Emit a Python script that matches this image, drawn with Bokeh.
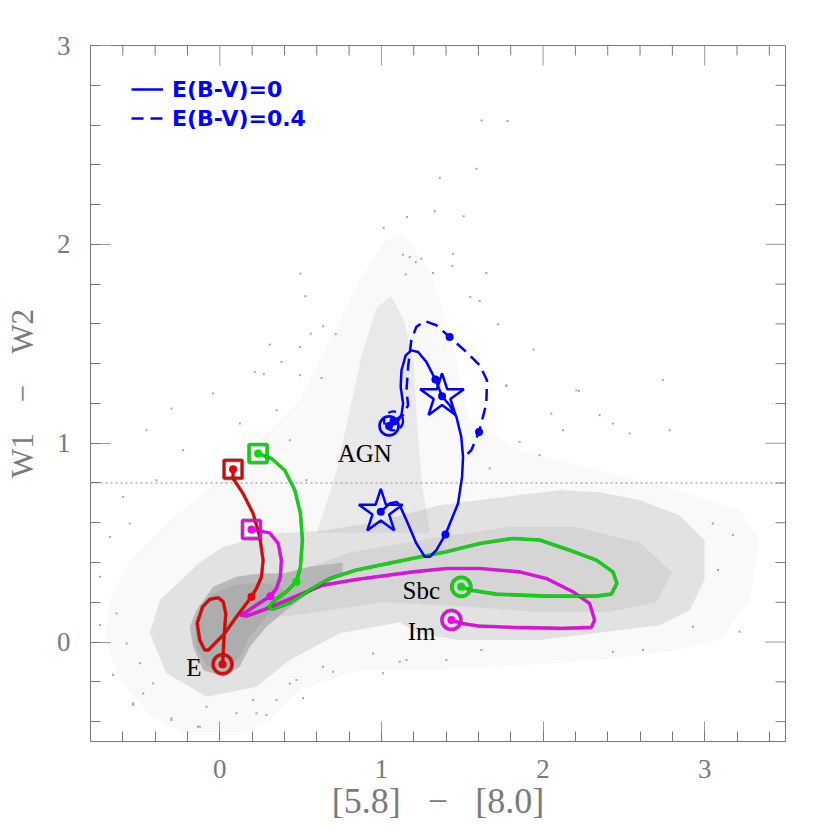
import numpy as np
from bokeh.plotting import figure
from bokeh.models import SingleIntervalTicker, Span, Legend, LegendItem
from bokeh.core.properties import value
from bokeh.embed import file_html
from bokeh.resources import INLINE

# ---------------- data ----------------
# density contours of the grey source cloud (x = [5.8]-[8.0], y = W1-W2)
halo_x = [-0.680, -0.557, -0.309, 0.000, 0.247, 0.495, 0.680, 0.866, 1.020, 1.144, 1.299, 1.422,
          1.546, 1.855, 2.350, 2.845, 3.216, 3.340, 3.278, 3.092, 2.845, 2.350, 1.855, 1.361,
          0.866, 0.495, 0.309, 0.124, -0.186, -0.433, -0.618, -0.711]
halo_y = [0.211, 0.412, 0.613, 0.814, 1.015, 1.216, 1.518, 1.819, 2.020, 2.045, 1.869, 1.568,
          1.116, 0.965, 0.864, 0.764, 0.663, 0.513, 0.211, 0.010, -0.040, -0.090, -0.116, -0.141,
          -0.141, -0.241, -0.392, -0.467, -0.467, -0.367, -0.191, 0.010]
mid_x = [-0.433, -0.371, -0.124, 0.021, 0.330, 0.639, 0.948, 1.361, 1.608, 1.855, 2.103,
         2.350, 2.597, 2.845, 2.999, 2.999, 2.907, 2.721, 2.474, 2.226, 1.979, 1.732, 1.484,
         1.237, 1.113, 0.742, 0.433, 0.227, -0.082, -0.330]
mid_y = [0.044, 0.211, 0.400, 0.479, 0.546, 0.560, 0.600, 0.688, 0.714, 0.739, 0.764,
         0.754, 0.714, 0.638, 0.513, 0.312, 0.161, 0.085, 0.060, 0.035, 0.010, 0.010, 0.010,
         0.040, 0.100, 0.044, -0.090, -0.225, -0.275, -0.157]
plume_x = [0.60, 0.72, 0.80, 0.88, 0.97, 1.06, 1.14, 1.20, 1.22, 1.25, 1.30]
plume_y = [0.55, 0.85, 1.15, 1.45, 1.68, 1.74, 1.62, 1.40, 1.10, 0.80, 0.55]
band_x = [0.30, 0.80, 1.30, 1.80, 2.20, 2.60, 2.80, 2.70, 2.40, 2.00, 1.50, 1.00, 0.60, 0.30]
band_y = [0.30, 0.45, 0.52, 0.58, 0.58, 0.50, 0.35, 0.20, 0.15, 0.15, 0.18, 0.20, 0.15, 0.12]
core_x = [-0.144, -0.041, 0.103, 0.247, 0.392, 0.560, 0.760, 0.760, 0.560, 0.412, 0.289, 0.186,
          0.124, 0.021, -0.103, -0.165, -0.186]
core_y = [0.161, 0.278, 0.328, 0.345, 0.345, 0.380, 0.400, 0.340, 0.250, 0.161, 0.077, -0.024,
          -0.124, -0.174, -0.141, -0.024, 0.077]
inner_x = [-0.15, -0.05, 0.10, 0.25, 0.38, 0.40, 0.28, 0.18, 0.12, 0.04, -0.08, -0.15]
inner_y = [0.12, 0.24, 0.29, 0.30, 0.28, 0.22, 0.12, 0.02, -0.08, -0.14, -0.12, -0.02]

# sparse individual sources outside the dense cloud
src_x = [1.620, 1.588, 1.361, 1.330, 1.158, 1.509, 1.014, 1.134, 1.175, 1.247, 1.443, 0.499, 0.530,
         1.649, 1.439, 1.319, 1.150, 1.212, 0.309, 0.382, 0.495, 0.563, 0.639, 0.717, 1.942, 1.773,
         2.222, 1.721, 1.608, 1.550, 0.495, 0.629, 0.272, 0.216, 1.780,
         -0.299, -0.227, -0.557, -0.680, -0.742, -0.639, -0.536, -0.299, -0.124, 0.227, 0.351,
         0.474, 0.639, -0.392, -0.041, 0.124, 0.351, 0.536, 0.433, -0.453, -0.598, 1.010, 1.155,
         1.402, 1.618, 2.432, 2.618, 2.927, 3.216, 3.174, 3.082, 3.051, 2.536, 2.783, 2.123, 2.350,
         2.432, 1.855, 1.979, 1.773, 2.051, 2.206, 1.670, 2.741,
         -0.742, -0.660, -0.536, -0.474, -0.299, -0.134, 0.103, 0.289, 0.515, 0.701, 0.948, 1.113,
         -0.577, -0.495, -0.412, -0.082, 0.206, 0.433]
src_y = [2.623, 2.380, 2.335, 2.166, 2.137, 2.141, 2.084, 1.948, 1.936, 1.928, 1.953, 1.853, 1.739,
         1.856, 1.891, 1.856, 1.849, 1.911, 1.496, 1.409, 1.484, 1.551, 1.588, 1.548, 1.471, 1.288,
         1.263, 1.598, 1.715, 1.735, 1.342, 1.328, 1.347, 1.358, 2.620,
         1.174, 0.965, 0.596, 0.529, 0.328, 0.144, -0.308, -0.392, -0.426, -0.358, -0.291,
         -0.191, -0.124, 0.814, 1.250, 1.099, 1.166, 0.814, 1.015, 1.065, 0.730, -0.157, -0.090,
         -0.090, -0.040, -0.049, -0.040, 0.077, 0.052, 0.538, 0.362, 0.596, 1.049, 1.065, 1.065, 1.141,
         1.099, 1.007, 0.940, 1.291, 1.149, 1.266, 0.873, 1.317,
         0.085, -0.166, -0.317, -0.258, -0.383, -0.426, -0.358, -0.367, -0.283, -0.149, -0.057, -0.099,
         -0.007, -0.107, -0.208, -0.325, -0.291, -0.208]

# template tracks
e_x = [0.017, 0.021, 0.025, 0.037, 0.021, -0.010, -0.062, -0.107, -0.140, -0.124, -0.093, -0.070,
       0.031, 0.103, 0.196, 0.227, 0.258, 0.268, 0.247, 0.206, 0.144, 0.082, 0.082]
e_y = [-0.111, -0.057, 0.010, 0.144, 0.203, 0.223, 0.215, 0.177, 0.094, 0.010, -0.040, -0.040,
       0.044, 0.127, 0.228, 0.270, 0.328, 0.412, 0.529, 0.647, 0.747, 0.823, 0.869]
im_x = [1.433, 1.495, 1.608, 1.814, 2.123, 2.299, 2.319, 2.288, 2.185, 2.020, 1.855, 1.608, 1.402,
        1.196, 0.845, 0.639, 0.515, 0.392, 0.268, 0.165, 0.128, 0.165, 0.227, 0.313, 0.351, 0.375,
        0.381, 0.361, 0.309, 0.196]
im_y = [0.111, 0.094, 0.080, 0.074, 0.069, 0.074, 0.111, 0.194, 0.253, 0.320, 0.353, 0.370, 0.370,
        0.353, 0.315, 0.286, 0.245, 0.203, 0.161, 0.131, 0.136, 0.152, 0.186, 0.231, 0.270, 0.328,
        0.412, 0.496, 0.549, 0.566]
sbc_x = [1.494, 1.556, 1.711, 2.020, 2.330, 2.422, 2.457, 2.432, 2.330, 2.165, 1.979, 1.814, 1.608,
         1.402, 1.196, 0.845, 0.680, 0.557, 0.433, 0.330, 0.303, 0.340, 0.412, 0.474, 0.499, 0.511,
         0.499, 0.464, 0.402, 0.320, 0.237]
sbc_y = [0.278, 0.261, 0.241, 0.231, 0.231, 0.241, 0.295, 0.353, 0.412, 0.462, 0.513, 0.521, 0.496,
         0.454, 0.421, 0.362, 0.320, 0.261, 0.198, 0.166, 0.172, 0.211, 0.253, 0.303, 0.378, 0.513,
         0.647, 0.764, 0.864, 0.923, 0.948]
agn_x = [1.047, 1.093, 1.124, 1.134, 1.119, 1.124, 1.150, 1.185, 1.227, 1.278, 1.334, 1.375, 1.422,
         1.464, 1.494, 1.505, 1.499, 1.474, 1.396, 1.340, 1.299, 1.268, 1.216, 1.155, 1.113, 1.093,
         1.051, 0.996]
agn_y = [1.087, 1.099, 1.141, 1.199, 1.283, 1.367, 1.442, 1.467, 1.459, 1.409, 1.320, 1.236, 1.191,
         1.132, 1.032, 0.931, 0.831, 0.697, 0.541, 0.462, 0.429, 0.429, 0.496, 0.613, 0.688, 0.705,
         0.697, 0.655]
agn04_x = [1.075, 1.134, 1.165, 1.155, 1.165, 1.185, 1.216, 1.268, 1.340, 1.422, 1.525, 1.608,
           1.653, 1.649, 1.604, 1.556, 1.515]
agn04_y = [1.112, 1.141, 1.191, 1.266, 1.384, 1.518, 1.585, 1.615, 1.593, 1.534, 1.459, 1.392,
           1.317, 1.199, 1.057, 0.965, 0.931]

# redshift markers on the tracks
e_dots_x, e_dots_y = [0.082, 0.196, 0.017], [0.869, 0.228, -0.111]
im_dots_x, im_dots_y = [0.196, 0.313, 1.433], [0.566, 0.231, 0.111]
sbc_dots_x, sbc_dots_y = [0.237, 0.474, 1.494], [0.948, 0.303, 0.278]
agn_dots_x = [1.047, 1.334, 1.375, 1.396, 0.996, 1.075, 1.422, 1.604]
agn_dots_y = [1.087, 1.320, 1.236, 0.541, 0.655, 1.112, 1.534, 1.057]
sq_x, sq_y = [0.082, 0.196, 0.237], [0.869, 0.566, 0.948]
ci_x, ci_y = [0.017, 1.433, 1.494, 1.047], [-0.111, 0.111, 0.278, 1.087]
star_x, star_y = [0.996, 1.375], [0.655, 1.236]

lab_text = ["AGN", "Sbc", "Im", "E"]
lab_x = [0.897, 1.247, 1.249, -0.160]
lab_y = [0.946, 0.261, 0.052, -0.129]

# axis ticks
x_major = [0, 1, 2, 3]
y_major = [0, 1, 2, 3]
x_minor = [round(v, 1) for v in np.arange(-0.8, 3.45, 0.2) if abs(v - round(v)) > 1e-6]
y_minor = [round(v, 1) for v in np.arange(-0.4, 2.95, 0.2) if abs(v - round(v)) > 1e-6]

NB = "\u00a0"
x_title = "[5.8]" + NB * 3 + "\u2212" + NB * 3 + "[8.0]"
y_title = "W1" + NB * 4 + "\u2212" + NB * 4 + "W2"

RED, MAG, GRN, BLU = "#e80000", "#f000f0", "#00dd00", "#0000ff"
sq_col = [RED, MAG, GRN]
ci_col = [RED, MAG, GRN, BLU]
GREY = "#a8a8a8"
AX = "#7a7a7a"

p = figure(frame_width=695, frame_height=696, x_range=(-0.8, 3.5), y_range=(-0.5, 3.0),
           output_backend="svg", toolbar_location=None,
           min_border_left=90, min_border_top=45, min_border_right=20, min_border_bottom=70,
           x_axis_label=x_title, y_axis_label=y_title)
p.grid.visible = False
p.outline_line_color = AX
p.background_fill_color = "white"
p.border_fill_color = "white"

for ax in (p.xaxis[0], p.yaxis[0]):
    ax.ticker = SingleIntervalTicker(interval=1, num_minor_ticks=5)
    ax.major_tick_in = 20
    ax.major_tick_out = 0
    ax.minor_tick_in = 10
    ax.minor_tick_out = 0
    ax.axis_line_color = AX
    ax.major_tick_line_color = "#9a9a9a"
    ax.minor_tick_line_color = AX
    ax.major_label_text_font = "Liberation Serif"
    ax.major_label_text_color = AX
    ax.major_label_text_font_size = "27px"
    ax.axis_label_text_font = "Liberation Serif"
    ax.axis_label_text_font_style = "normal"
    ax.axis_label_text_color = AX
p.xaxis[0].axis_label_text_font_size = "36px"
p.yaxis[0].axis_label_text_font_size = "31px"
p.xaxis[0].major_label_standoff = 18
p.xaxis[0].axis_label_standoff = 0
p.yaxis[0].major_label_standoff = 20
p.yaxis[0].axis_label_standoff = 14

# ticks on the top and right edges of the frame
p.ray(x=x_major, y=3.0, length=20, length_units="screen", angle=-np.pi / 2, line_color="#9a9a9a", line_width=1)
p.ray(x=x_minor, y=3.0, length=10, length_units="screen", angle=-np.pi / 2, line_color=AX, line_width=1)
p.ray(x=3.5, y=y_major, length=20, length_units="screen", angle=np.pi, line_color="#9a9a9a", line_width=1)
p.ray(x=3.5, y=y_minor, length=10, length_units="screen", angle=np.pi, line_color=AX, line_width=1)

# reference line
p.add_layout(Span(location=0.8, dimension="width", line_color="#8a8a8a", line_width=1,
                  line_dash="2 3", level="underlay"))

# grey cloud
for xs, ys, a in [(halo_x, halo_y, 0.07), (mid_x, mid_y, 0.27), (plume_x, plume_y, 0.20),
                  (band_x, band_y, 0.22), (core_x, core_y, 0.7), (inner_x, inner_y, 0.7)]:
    p.patch(xs, ys, fill_color=GREY, fill_alpha=a, line_color=None)
p.scatter(src_x, src_y, marker="square", size=2, color=GREY, line_color=None)

# tracks
for xs, ys, c in [(e_x, e_y, RED), (im_x, im_y, MAG), (sbc_x, sbc_y, GRN)]:
    p.line(xs, ys, line_color="#202020", line_width=3.6, line_alpha=0.5)
    p.line(xs, ys, line_color=c, line_width=2.7)
agn_solid = p.line(agn_x, agn_y, line_color=BLU, line_width=2.5)
agn_dash = p.line(agn04_x, agn04_y, line_color=BLU, line_width=2.5, line_dash="12 7")

# markers
p.scatter(sq_x, sq_y, marker="square", size=18, fill_color=None, line_color="#202020", line_width=3.8, line_alpha=0.5)
p.scatter(sq_x, sq_y, marker="square", size=18, fill_color=None, line_color=sq_col, line_width=2.7)
p.scatter(ci_x[:3], ci_y[:3], marker="circle", size=19, fill_color=None, line_color="#202020", line_width=3.8, line_alpha=0.5)
p.scatter(ci_x, ci_y, marker="circle", size=19, fill_color=None, line_color=ci_col, line_width=2.7)
p.scatter([agn04_x[0]], [agn04_y[0]], marker="circle", size=19, fill_color=None, line_color=BLU,
          line_width=2.3, line_dash="8 5")
p.scatter(star_x, star_y, marker="star", size=46, fill_color=None, line_color=BLU, line_width=2.5)
for xs, ys, c in [(e_dots_x, e_dots_y, RED), (im_dots_x, im_dots_y, MAG),
                  (sbc_dots_x, sbc_dots_y, GRN), (agn_dots_x, agn_dots_y, BLU)]:
    p.scatter(xs, ys, marker="circle", size=8, fill_color=c, line_color=None)

p.text(lab_x, lab_y, text=lab_text, text_font=value("Liberation Serif"), text_font_size="25px",
       text_color="black", text_align="center", text_baseline="middle")

legend = Legend(items=[LegendItem(label="E(B-V)=0", renderers=[agn_solid]),
                       LegendItem(label="E(B-V)=0.4", renderers=[agn_dash])],
                location=(41, 610), orientation="vertical")
legend.glyph_width = 32
legend.glyph_height = 26
legend.label_height = 26
legend.spacing = 3
legend.padding = 0
legend.margin = 0
legend.label_standoff = 9
legend.label_text_font = "DejaVu Sans"
legend.label_text_font_size = "22px"
legend.label_text_font_style = "bold"
legend.label_text_color = BLU
legend.background_fill_alpha = 0
legend.border_line_alpha = 0
p.add_layout(legend, "center")

open("out.html", "w").write(file_html(p, INLINE))
